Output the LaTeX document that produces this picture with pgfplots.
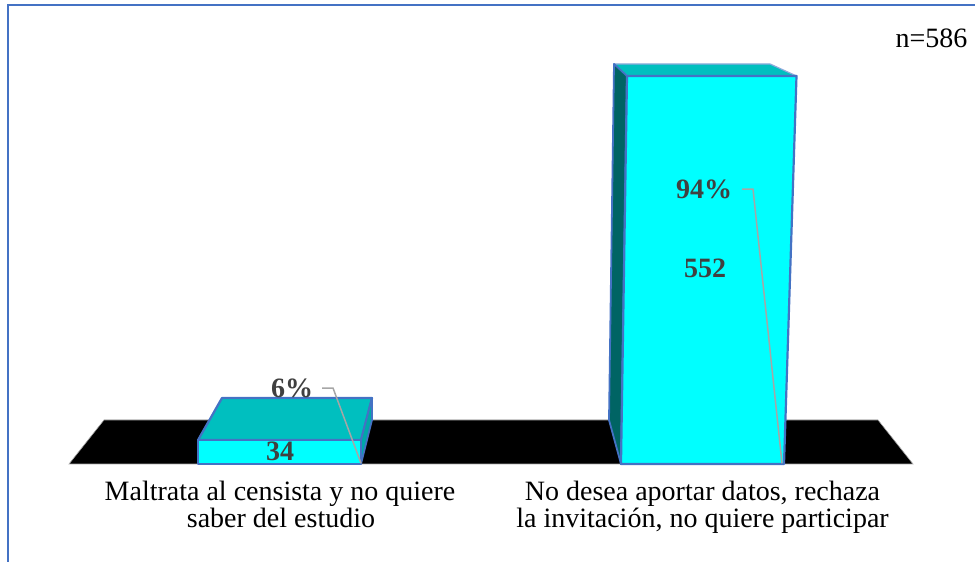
\documentclass[border=0pt]{standalone}
\usepackage{pgfplots}
\pgfplotsset{compat=1.18}
\usepackage{fontspec}
\setmainfont{Liberation Serif}
\definecolor{edge}{HTML}{4472C4}
\definecolor{front}{HTML}{00FFFF}
\definecolor{topf}{HTML}{00BFBF}
\definecolor{sidea}{HTML}{00A8A8}
\definecolor{sideb}{HTML}{006464}
\definecolor{lbl}{HTML}{404040}
\definecolor{lead}{HTML}{A6A6A6}
\newcommand{\bl}{\fontsize{28}{30}\selectfont\bfseries}
\newcommand{\rg}{\fontsize{28}{30}\selectfont}
\begin{document}
\begin{tikzpicture}[x=1pt,y=1pt]
\useasboundingbox (0,0) rectangle (975,562);
\clip (0,0) rectangle (975,562);
\begin{axis}[
  at={(0,0)},anchor=south west,
  width=975pt,height=562pt,scale only axis,
  axis lines=none,
  xmin=0,xmax=975,ymin=-139.42,ymax=660.1,
  clip=false,
]
% frame
\addplot[edge,line width=1.8pt] coordinates {(8,-200)(8,653)(1000,653)};
% floor
\addplot[fill=black,draw=lead,line width=0.6pt] coordinates {(69,0)(104,62.6)(878,62.6)(913,0)} -- cycle;
% bar 1: value 34
\addplot[fill=topf,draw=edge,line width=2.2pt,line join=round] coordinates {(198,34)(222,93.9)(372,93.9)(361,34)} -- cycle;
\addplot[fill=sidea,draw=edge,line width=1.8pt,line join=round] coordinates {(361,34)(372,93.9)(372,62.6)(361,0)} -- cycle;
\addplot[fill=front,draw=edge,line width=2.2pt,line join=round] coordinates {(198,0)(198,34)(361,34)(361,0)} -- cycle;
% bar 2: value 552
\addplot[fill=topf,draw=edge!60,line width=1.2pt,line join=round] coordinates {(627,552)(614,569.1)(770,569.1)(796.5,552)} -- cycle;
\addplot[fill=sideb,draw=edge,line width=1.8pt,line join=round] coordinates {(614,569.1)(627,552)(621,0)(609,62.6)} -- cycle;
\addplot[fill=front,draw=edge,line width=2.2pt,line join=round] coordinates {(621,0)(627,552)(796.5,552)(784,0)} -- cycle;
% leader lines
\addplot[lead,line width=1.5pt] coordinates {(322,108.1)(333,108.1)(361,1)};
\addplot[lead,line width=1.5pt] coordinates {(742,391.2)(753,391.2)(782,1)};
% labels
\node[text=lbl,font=\bl] at (axis cs:292,108.1) {6\%};
\node[text=lbl,font=\bl] at (axis cs:704,391.2) {94\%};
\node[text=lbl,font=\bl] at (axis cs:280,18) {34};
\node[text=lbl,font=\bl] at (axis cs:705,278) {552};
\node[text=black,font=\rg,anchor=base] at (axis cs:931.5,591.8) {n=586};
\node[text=black,font=\rg,anchor=base] at (axis cs:280,-52.5) {Maltrata al censista y no quiere};
\node[text=black,font=\rg,anchor=base] at (axis cs:281,-90) {saber del estudio};
\node[text=black,font=\rg,anchor=base] at (axis cs:702.5,-52.5) {No desea aportar datos, rechaza};
\node[text=black,font=\rg,anchor=base] at (axis cs:702.5,-90) {la invitación, no quiere participar};
\end{axis}
\end{tikzpicture}
\end{document}
